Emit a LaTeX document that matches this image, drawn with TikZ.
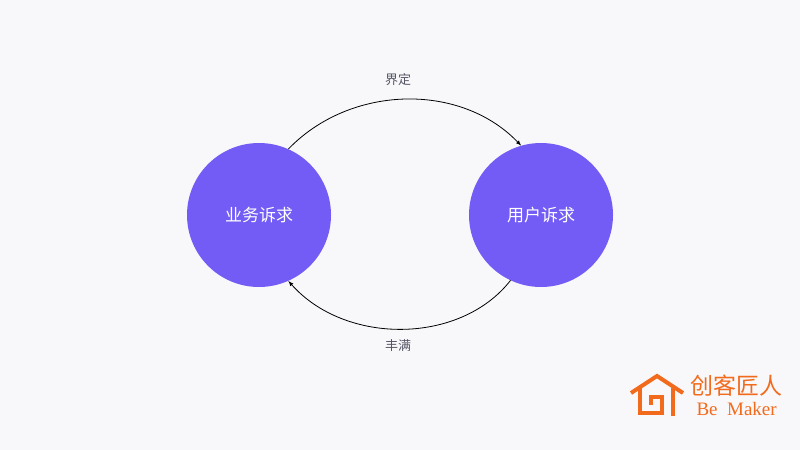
\documentclass[tikz,border=0pt]{standalone}
\usepackage{fontspec}
\newfontfamily\cjk{Noto Sans CJK SC}
\setmainfont{Liberation Serif}
\definecolor{bg}{HTML}{F8F8FA}
\definecolor{circ}{HTML}{735CF5}
\definecolor{lab}{HTML}{555566}
\definecolor{org}{HTML}{F26B1D}
\begin{document}
\begin{tikzpicture}[x=1pt,y=-1pt,
  bubble/.style={circle,fill=circ,minimum size=144pt,inner sep=0,text=white,font=\cjk\fontsize{17}{20}\selectfont},
  lbl/.style={text=lab,font=\cjk\fontsize{13}{16}\selectfont},
  conn/.style={-latex,line width=0.8pt,black}]
\fill[bg] (0,0) rectangle (800,450);
\useasboundingbox (0,0) rectangle (800,450);
\node[bubble] (a) at (259,215) {业务诉求};
\node[bubble] (b) at (541,215) {用户诉求};
\draw[conn] (a.66) .. controls (350,85) and (460,82) .. (b.106);
\draw[conn] (b.-115) .. controls (460,345) and (345,345) .. (a.-66);
\node[lbl] (t) at (398,80) {界定};
\node[lbl] (m) at (398,346) {丰满};
% logo
\begin{scope}[org,line width=4pt,line cap=butt,line join=miter]
\draw (631,393) -- (657,376) -- (683,393);
\draw (640,388) -- (640,413) -- (662,413) -- (662,397) -- (651,397) -- (651,405);
\draw (673,388) -- (673,416);
\end{scope}
\node[text=org,font=\cjk\fontsize{23}{24}\selectfont,anchor=west] (c) at (687,386) {创客匠人};
\node[text=org,font=\fontsize{19}{20}\selectfont,anchor=west] (e) at (693,409) {Be\ \ Maker};
\end{tikzpicture}
\end{document}
